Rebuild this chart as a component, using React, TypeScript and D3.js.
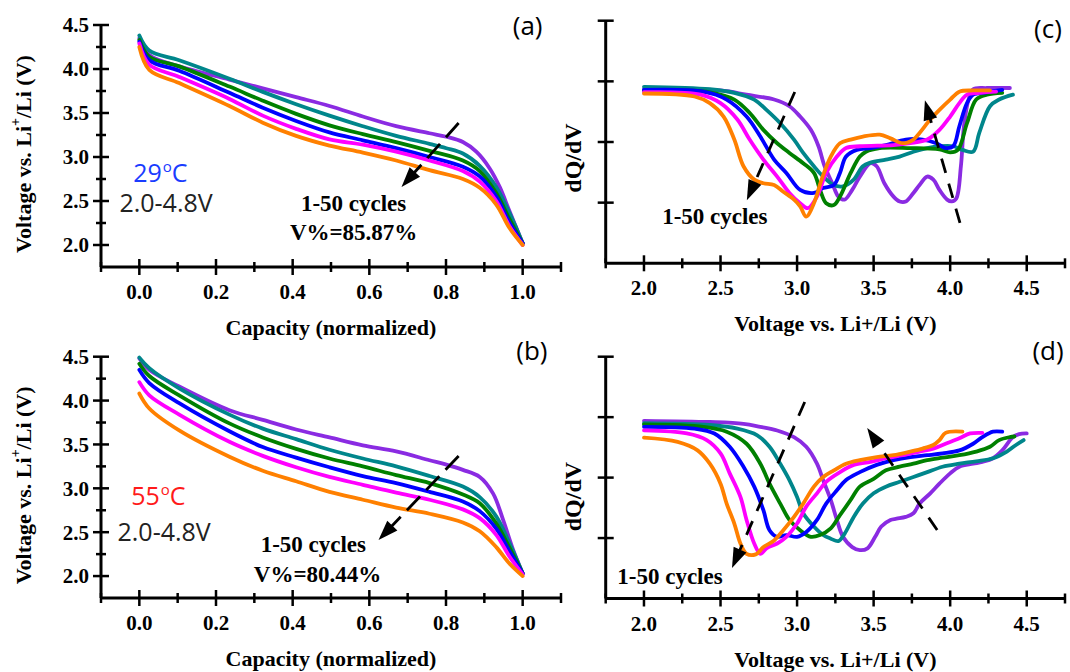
import React from "react";
import * as d3 from "d3";

type Pt = [number, number];

// cycle 1, 10, 20, 30, 40, 50
const cycleColors = ["#8a2be2", "#00868b", "#008000", "#0000ff", "#ff00ff", "#ff8000"];

// tick values
const capMajor = [0, 0.2, 0.4, 0.6, 0.8, 1.0];
const capMinor = [-0.1, 0.1, 0.3, 0.5, 0.7, 0.9, 1.1];
const voltMajor = [2.0, 2.5, 3.0, 3.5, 4.0, 4.5];
const voltMinor = [2.25, 2.75, 3.25, 3.75, 4.25];
const dqMajor = [1, 2, 3, 4];
const dqXMinor = [1.75, 2.25, 2.75, 3.25, 3.75, 4.25, 4.75];

// (a) 29 C discharge, [capacity, voltage]
const a29Cycle1: Pt[] = [[0, 4.35], [0.026, 4.16], [0.104, 4.03], [0.235, 3.88], [0.322, 3.78], [0.409, 3.68], [0.496, 3.58], [0.583, 3.46], [0.67, 3.35], [0.757, 3.27], [0.801, 3.23], [0.844, 3.17], [0.879, 3.06], [0.914, 2.87], [0.94, 2.66], [0.966, 2.38], [1.0, 2.02]];
const a29Cycle10: Pt[] = [[0, 4.38], [0.026, 4.21], [0.104, 4.1], [0.235, 3.89], [0.322, 3.74], [0.409, 3.6], [0.496, 3.47], [0.583, 3.35], [0.67, 3.24], [0.757, 3.15], [0.801, 3.1], [0.844, 3.04], [0.888, 2.9], [0.931, 2.66], [0.966, 2.36], [1.0, 2.02]];
const a29Cycle20: Pt[] = [[0, 4.33], [0.026, 4.14], [0.104, 4.03], [0.235, 3.8], [0.322, 3.64], [0.409, 3.49], [0.496, 3.36], [0.583, 3.26], [0.67, 3.17], [0.757, 3.07], [0.844, 2.96], [0.888, 2.84], [0.931, 2.59], [0.966, 2.29], [1.0, 2.02]];
const a29Cycle30: Pt[] = [[0, 4.31], [0.026, 4.1], [0.104, 3.98], [0.235, 3.73], [0.322, 3.56], [0.409, 3.41], [0.496, 3.28], [0.583, 3.19], [0.67, 3.1], [0.757, 3.0], [0.844, 2.89], [0.888, 2.78], [0.931, 2.55], [0.966, 2.25], [1.0, 2.02]];
const a29Cycle40: Pt[] = [[0, 4.29], [0.026, 4.05], [0.104, 3.91], [0.235, 3.66], [0.322, 3.47], [0.409, 3.32], [0.496, 3.2], [0.583, 3.14], [0.67, 3.06], [0.757, 2.96], [0.844, 2.84], [0.888, 2.72], [0.931, 2.5], [0.966, 2.21], [1.0, 2.0]];
const a29Cycle50: Pt[] = [[0, 4.25], [0.026, 3.99], [0.104, 3.84], [0.235, 3.58], [0.322, 3.39], [0.409, 3.24], [0.496, 3.13], [0.583, 3.05], [0.67, 2.96], [0.757, 2.85], [0.844, 2.75], [0.888, 2.65], [0.931, 2.46], [0.966, 2.19], [1.0, 2.0]];

// (b) 55 C discharge, [capacity, voltage]
const b55Cycle1: Pt[] = [[0, 4.48], [0.026, 4.35], [0.104, 4.16], [0.235, 3.89], [0.322, 3.78], [0.409, 3.67], [0.496, 3.58], [0.583, 3.49], [0.67, 3.42], [0.757, 3.32], [0.801, 3.27], [0.844, 3.21], [0.888, 3.13], [0.923, 2.94], [0.949, 2.64], [0.975, 2.3], [1.0, 2.03]];
const b55Cycle10: Pt[] = [[0, 4.49], [0.026, 4.37], [0.104, 4.14], [0.235, 3.84], [0.322, 3.68], [0.409, 3.56], [0.496, 3.44], [0.583, 3.34], [0.67, 3.25], [0.757, 3.14], [0.844, 3.02], [0.888, 2.9], [0.931, 2.68], [0.966, 2.37], [1.0, 2.03]];
const b55Cycle20: Pt[] = [[0, 4.42], [0.026, 4.28], [0.104, 4.06], [0.235, 3.74], [0.322, 3.58], [0.409, 3.45], [0.496, 3.34], [0.583, 3.25], [0.67, 3.15], [0.757, 3.06], [0.844, 2.93], [0.888, 2.83], [0.931, 2.6], [0.966, 2.32], [1.0, 2.03]];
const b55Cycle30: Pt[] = [[0, 4.35], [0.026, 4.2], [0.104, 3.97], [0.235, 3.65], [0.322, 3.47], [0.409, 3.35], [0.496, 3.24], [0.583, 3.14], [0.67, 3.06], [0.757, 2.96], [0.844, 2.85], [0.888, 2.74], [0.931, 2.54], [0.966, 2.28], [1.0, 2.03]];
const b55Cycle40: Pt[] = [[0, 4.21], [0.026, 4.06], [0.104, 3.84], [0.235, 3.53], [0.322, 3.37], [0.409, 3.24], [0.496, 3.13], [0.583, 3.04], [0.67, 2.95], [0.757, 2.87], [0.844, 2.76], [0.888, 2.66], [0.931, 2.47], [0.966, 2.22], [1.0, 2.02]];
const b55Cycle50: Pt[] = [[0, 4.08], [0.026, 3.91], [0.104, 3.66], [0.235, 3.36], [0.322, 3.2], [0.409, 3.08], [0.496, 2.96], [0.583, 2.87], [0.67, 2.78], [0.757, 2.71], [0.844, 2.61], [0.888, 2.51], [0.931, 2.33], [0.966, 2.14], [1.0, 2.0]];

// (c) 29 C dQ/dV, [voltage, dQ/dV (a.u.)]
const c29Cycle1: Pt[] = [[2.0, 2.87], [2.5, 2.85], [2.67, 2.78], [2.85, 2.7], [2.95, 2.59], [3.02, 2.42], [3.09, 2.2], [3.14, 1.93], [3.18, 1.6], [3.23, 1.32], [3.27, 1.1], [3.31, 1.05], [3.36, 1.21], [3.41, 1.43], [3.48, 1.65], [3.52, 1.6], [3.57, 1.32], [3.63, 1.1], [3.67, 1.02], [3.71, 1.02], [3.76, 1.16], [3.8, 1.29], [3.85, 1.43], [3.89, 1.38], [3.93, 1.21], [3.98, 1.05], [4.01, 1.02], [4.04, 1.07], [4.07, 1.6], [4.09, 2.26], [4.12, 2.7], [4.15, 2.87], [4.24, 2.89], [4.39, 2.89]];
const c29Cycle10: Pt[] = [[2.0, 2.91], [2.43, 2.87], [2.59, 2.81], [2.72, 2.7], [2.8, 2.53], [2.89, 2.31], [2.98, 2.04], [3.04, 1.82], [3.11, 1.6], [3.17, 1.43], [3.24, 1.29], [3.3, 1.27], [3.37, 1.38], [3.43, 1.6], [3.48, 1.66], [3.58, 1.71], [3.67, 1.76], [3.76, 1.84], [3.85, 1.9], [3.93, 1.93], [4.02, 1.93], [4.08, 1.87], [4.15, 1.84], [4.19, 2.15], [4.26, 2.59], [4.32, 2.7], [4.41, 2.78]];
const c29Cycle20: Pt[] = [[2.0, 2.85], [2.43, 2.82], [2.59, 2.7], [2.69, 2.48], [2.78, 2.2], [2.87, 1.98], [2.95, 1.82], [3.04, 1.65], [3.11, 1.49], [3.15, 1.21], [3.19, 0.99], [3.24, 0.96], [3.28, 1.1], [3.35, 1.49], [3.41, 1.76], [3.45, 1.84], [3.54, 1.9], [3.74, 1.9], [3.93, 1.88], [4.0, 1.83], [4.05, 1.87], [4.11, 2.31], [4.17, 2.7], [4.24, 2.78], [4.34, 2.81]];
const c29Cycle30: Pt[] = [[2.0, 2.86], [2.39, 2.83], [2.54, 2.7], [2.67, 2.42], [2.76, 2.09], [2.85, 1.71], [2.93, 1.49], [3.02, 1.21], [3.11, 1.16], [3.17, 1.24], [3.24, 1.29], [3.28, 1.49], [3.32, 1.76], [3.39, 1.87], [3.48, 1.9], [3.58, 1.95], [3.71, 2.04], [3.82, 2.04], [3.91, 1.98], [3.97, 1.9], [4.02, 1.93], [4.06, 2.26], [4.11, 2.64], [4.15, 2.78], [4.24, 2.82], [4.34, 2.86]];
const c29Cycle40: Pt[] = [[2.0, 2.82], [2.37, 2.78], [2.5, 2.64], [2.61, 2.37], [2.69, 2.04], [2.78, 1.71], [2.87, 1.43], [2.95, 1.16], [3.02, 0.99], [3.07, 0.91], [3.13, 1.1], [3.19, 1.49], [3.26, 1.76], [3.32, 1.9], [3.41, 1.93], [3.63, 1.95], [3.74, 1.98], [3.85, 2.04], [3.93, 2.2], [4.0, 2.42], [4.06, 2.64], [4.11, 2.78], [4.19, 2.81], [4.3, 2.83]];
const c29Cycle50: Pt[] = [[2.0, 2.8], [2.33, 2.75], [2.43, 2.64], [2.52, 2.42], [2.59, 2.04], [2.65, 1.6], [2.72, 1.38], [2.78, 1.32], [2.85, 1.29], [2.91, 1.18], [2.98, 1.05], [3.02, 0.94], [3.06, 0.77], [3.11, 0.99], [3.16, 1.38], [3.22, 1.76], [3.28, 1.98], [3.35, 2.04], [3.43, 2.09], [3.54, 2.12], [3.61, 2.06], [3.69, 1.98], [3.76, 2.04], [3.8, 2.15], [3.87, 2.37], [3.93, 2.53], [4.0, 2.7], [4.06, 2.83], [4.15, 2.85], [4.26, 2.85]];

// (d) 55 C dQ/dV, [voltage, dQ/dV (a.u.)]
const d55Cycle1: Pt[] = [[2.0, 2.94], [2.43, 2.92], [2.65, 2.89], [2.76, 2.84], [2.87, 2.78], [2.98, 2.67], [3.06, 2.51], [3.13, 2.23], [3.17, 1.96], [3.22, 1.63], [3.26, 1.3], [3.3, 1.02], [3.36, 0.85], [3.41, 0.8], [3.46, 0.83], [3.51, 1.02], [3.55, 1.19], [3.61, 1.3], [3.65, 1.32], [3.71, 1.35], [3.76, 1.41], [3.8, 1.57], [3.87, 1.74], [3.93, 1.9], [4.0, 2.07], [4.06, 2.18], [4.15, 2.23], [4.21, 2.26], [4.28, 2.32], [4.34, 2.45], [4.41, 2.67], [4.45, 2.72], [4.5, 2.73]];
const d55Cycle10: Pt[] = [[2.0, 2.9], [2.43, 2.87], [2.61, 2.81], [2.74, 2.7], [2.82, 2.51], [2.89, 2.23], [2.95, 1.96], [3.0, 1.68], [3.04, 1.41], [3.11, 1.19], [3.17, 1.05], [3.22, 0.99], [3.27, 0.95], [3.31, 1.07], [3.37, 1.35], [3.43, 1.57], [3.5, 1.74], [3.58, 1.85], [3.67, 1.93], [3.76, 2.01], [3.85, 2.09], [3.95, 2.18], [4.06, 2.23], [4.17, 2.27], [4.28, 2.32], [4.37, 2.43], [4.43, 2.54], [4.48, 2.62]];
const d55Cycle20: Pt[] = [[2.0, 2.88], [2.39, 2.84], [2.54, 2.76], [2.67, 2.56], [2.76, 2.23], [2.82, 1.9], [2.89, 1.57], [2.95, 1.3], [3.02, 1.13], [3.09, 1.02], [3.15, 1.05], [3.22, 1.16], [3.28, 1.38], [3.35, 1.63], [3.41, 1.85], [3.5, 1.98], [3.58, 2.12], [3.67, 2.18], [3.76, 2.23], [3.85, 2.29], [3.95, 2.33], [4.06, 2.37], [4.17, 2.43], [4.26, 2.51], [4.32, 2.62], [4.39, 2.67], [4.42, 2.68]];
const d55Cycle30: Pt[] = [[2.0, 2.84], [2.33, 2.81], [2.46, 2.73], [2.56, 2.51], [2.65, 2.18], [2.72, 1.85], [2.78, 1.46], [2.82, 1.13], [2.87, 1.02], [2.93, 1.05], [3.0, 1.02], [3.06, 1.1], [3.13, 1.3], [3.19, 1.57], [3.26, 1.79], [3.32, 1.96], [3.41, 2.09], [3.52, 2.21], [3.63, 2.29], [3.74, 2.34], [3.85, 2.37], [3.95, 2.4], [4.06, 2.45], [4.15, 2.56], [4.21, 2.67], [4.28, 2.76], [4.34, 2.76]];
const d55Cycle40: Pt[] = [[2.0, 2.78], [2.28, 2.73], [2.41, 2.62], [2.5, 2.4], [2.56, 2.07], [2.63, 1.68], [2.67, 1.3], [2.72, 0.91], [2.76, 0.74], [2.8, 0.83], [2.87, 0.91], [2.93, 1.02], [3.0, 1.24], [3.06, 1.52], [3.13, 1.74], [3.19, 1.93], [3.28, 2.09], [3.37, 2.21], [3.48, 2.26], [3.58, 2.32], [3.69, 2.37], [3.8, 2.43], [3.89, 2.48], [3.97, 2.56], [4.06, 2.65], [4.13, 2.73], [4.21, 2.74]];
const d55Cycle50: Pt[] = [[2.0, 2.66], [2.22, 2.59], [2.35, 2.45], [2.43, 2.23], [2.5, 1.9], [2.54, 1.57], [2.59, 1.24], [2.63, 0.91], [2.67, 0.74], [2.73, 0.73], [2.78, 0.85], [2.85, 0.96], [2.91, 1.13], [2.98, 1.35], [3.04, 1.57], [3.11, 1.85], [3.17, 2.01], [3.24, 2.12], [3.32, 2.23], [3.41, 2.29], [3.52, 2.34], [3.63, 2.37], [3.74, 2.43], [3.82, 2.48], [3.89, 2.54], [3.93, 2.62], [3.97, 2.74], [4.08, 2.76]];

const serif = "'Liberation Serif', 'Times New Roman', serif";
const sans = "'Open Sans', 'Liberation Sans', sans-serif";

type Scale = d3.ScaleLinear<number, number>;

interface PanelProps {
  xDomain: [number, number];
  xRange: [number, number];
  yDomain: [number, number];
  yRange: [number, number];
  xMajor: number[];
  xMinor: number[];
  xFmt: (v: number) => string;
  yMajor: number[];
  yMinor: number[];
  yFmt?: (v: number) => string;
  series: Pt[][];
  xTitle: string;
  yTitle: React.ReactNode;
  yTitleX: number;
  yTitleShift: number;
  yTitleSize: number;
  extra: (x: Scale, y: Scale) => React.ReactNode;
}

const DashArrow = ({ x1, y1, x2, y2, dash }: { x1: number; y1: number; x2: number; y2: number; dash: string }) => {
  const dx = x2 - x1;
  const dy = y2 - y1;
  const len = Math.hypot(dx, dy);
  const ux = dx / len;
  const uy = dy / len;
  const hl = 20; // head length
  const hw = 7; // half width
  const bx = x2 - ux * hl;
  const by = y2 - uy * hl;
  const pts = [
    [x2, y2],
    [bx - uy * hw, by + ux * hw],
    [bx + uy * hw, by - ux * hw],
  ];
  return (
    <g>
      <line x1={x1} y1={y1} x2={bx + ux * 2} y2={by + uy * 2} stroke="#000" strokeWidth={2.8} strokeDasharray={dash} />
      <polygon points={pts.map((p) => p.join(",")).join(" ")} fill="#000" />
    </g>
  );
};

const Panel = (p: PanelProps) => {
  const x = d3.scaleLinear().domain(p.xDomain).range(p.xRange);
  const y = d3.scaleLinear().domain(p.yDomain).range(p.yRange);
  const line = d3
    .line<Pt>()
    .x((d) => x(d[0]))
    .y((d) => y(d[1]))
    .curve(d3.curveCatmullRom.alpha(0.5));

  const ax = p.xRange[0];
  const ay = p.yRange[0];
  const yMid = (p.yRange[0] + p.yRange[1]) / 2 + p.yTitleShift;

  return (
    <g>
      {p.series.map((s, i) => (
        <path
          key={i}
          d={line(s) ?? ""}
          fill="none"
          stroke={cycleColors[i]}
          strokeWidth={3.8}
          strokeLinejoin="round"
          strokeLinecap="round"
        />
      ))}

      {/* axes */}
      <line x1={ax} y1={ay} x2={p.xRange[1]} y2={ay} stroke="#000" strokeWidth={3} />
      <line x1={ax} y1={ay} x2={ax} y2={p.yRange[1]} stroke="#000" strokeWidth={3} />

      {p.xMajor.map((v) => (
        <g key={"xm" + v}>
          <line x1={x(v)} x2={x(v)} y1={ay - 8} y2={ay + 8} stroke="#000" strokeWidth={2.5} />
          <text x={x(v)} y={ay + 32} textAnchor="middle" fontSize={21} fontWeight="bold" fontFamily={serif}>
            {p.xFmt(v)}
          </text>
        </g>
      ))}
      {p.xMinor.map((v) => (
        <line key={"xn" + v} x1={x(v)} x2={x(v)} y1={ay - 5} y2={ay + 5} stroke="#000" strokeWidth={2.5} />
      ))}
      {p.yMajor.map((v) => (
        <g key={"ym" + v}>
          <line x1={ax - 8} x2={ax + 8} y1={y(v)} y2={y(v)} stroke="#000" strokeWidth={2.5} />
          {p.yFmt && (
            <text x={ax - 12} y={y(v)} dy="0.35em" textAnchor="end" fontSize={21} fontWeight="bold" fontFamily={serif}>
              {p.yFmt(v)}
            </text>
          )}
        </g>
      ))}
      {p.yMinor.map((v) => (
        <line key={"yn" + v} x1={ax - 5} x2={ax + 5} y1={y(v)} y2={y(v)} stroke="#000" strokeWidth={2.5} />
      ))}

      <text
        x={(x(p.xMajor[0]) + x(p.xMajor[p.xMajor.length - 1])) / 2}
        y={ay + 68}
        textAnchor="middle"
        fontSize={22}
        fontWeight="bold"
        fontFamily={serif}
      >
        {p.xTitle}
      </text>
      <text
        transform={`translate(${p.yTitleX},${yMid}) rotate(-90)`}
        textAnchor="middle"
        dominantBaseline="central"
        fontSize={p.yTitleSize}
        fontWeight="bold"
        fontFamily={serif}
      >
        {p.yTitle}
      </text>

      {p.extra(x, y)}
    </g>
  );
};

const voltTitle = (
  <>
    Voltage vs. Li
    <tspan dy={-8} fontSize={14}>
      +
    </tspan>
    <tspan dy={8}>/Li (V)</tspan>
  </>
);

const capExtra = (label: string, temp: string, tempColor: string, vpct: string, pos: {
  tag: Pt; temp: Pt; range: Pt; cyc: Pt; vp: Pt; a0: Pt; a1: Pt;
}) => (x: Scale, y: Scale) => (
  <g>
    <text x={x(pos.tag[0])} y={y(pos.tag[1])} textAnchor="middle" fontSize={26} fontFamily={sans}>
      {label}
    </text>
    <text x={x(pos.temp[0])} y={y(pos.temp[1])} fontSize={25} fontFamily={sans} fill={tempColor}>
      {temp}
    </text>
    <text x={x(pos.temp[0]) + 29.5} y={y(pos.temp[1]) - 10} fontSize={15} fontFamily={sans} fill={tempColor}>
      o
    </text>
    <text x={x(pos.temp[0]) + 38.5} y={y(pos.temp[1])} fontSize={25} fontFamily={sans} fill={tempColor}>
      C
    </text>
    <text x={x(pos.range[0])} y={y(pos.range[1])} fontSize={25} fontFamily={sans} fill="#222">
      2.0-4.8V
    </text>
    <text x={x(pos.cyc[0])} y={y(pos.cyc[1])} textAnchor="middle" fontSize={23} fontWeight="bold" fontFamily={serif}>
      1-50 cycles
    </text>
    <text x={x(pos.vp[0])} y={y(pos.vp[1])} textAnchor="middle" fontSize={23} fontWeight="bold" fontFamily={serif}>
      {vpct}
    </text>
    <DashArrow x1={x(pos.a0[0])} y1={y(pos.a0[1])} x2={x(pos.a1[0])} y2={y(pos.a1[1])} dash="19 9" />
  </g>
);

const dqExtra = (label: string, pos: { tag: Pt; cyc: Pt; a0: Pt; a1: Pt; b0: Pt; b1: Pt }) =>
  (x: Scale, y: Scale) => (
    <g>
      <text x={x(pos.tag[0])} y={y(pos.tag[1])} textAnchor="middle" fontSize={26} fontFamily={sans}>
        {label}
      </text>
      <text x={x(pos.cyc[0])} y={y(pos.cyc[1])} textAnchor="middle" fontSize={23} fontWeight="bold" fontFamily={serif}>
        1-50 cycles
      </text>
      <DashArrow x1={x(pos.a0[0])} y1={y(pos.a0[1])} x2={x(pos.a1[0])} y2={y(pos.a1[1])} dash="15 11" />
      <DashArrow x1={x(pos.b0[0])} y1={y(pos.b0[1])} x2={x(pos.b1[0])} y2={y(pos.b1[1])} dash="15 11" />
    </g>
  );

const fmt1 = d3.format(".1f");

export default function App() {
  const capX: [number, number] = [101, 561];
  const dqX: [number, number] = [605.7, 1065];
  return (
    <svg
      width={1070}
      height={672}
      style={{ position: "absolute", left: 0, top: 0, background: "#fff" }}
    >
      <Panel
        xDomain={[-0.1, 1.1]}
        xRange={capX}
        yDomain={[1.75, 4.5]}
        yRange={[267, 25]}
        xMajor={capMajor}
        xMinor={capMinor}
        xFmt={fmt1}
        yMajor={voltMajor}
        yMinor={voltMinor}
        yFmt={fmt1}
        series={[a29Cycle1, a29Cycle10, a29Cycle20, a29Cycle30, a29Cycle40, a29Cycle50]}
        xTitle="Capacity (normalized)"
        yTitle={voltTitle}
        yTitleX={23}
        yTitleShift={8}
        yTitleSize={22}
        extra={capExtra("(a)", "29", "#1a3cff", "V%=85.87%", {
          tag: [1.013, 4.39],
          temp: [-0.016, 2.72],
          range: [-0.052, 2.375],
          cyc: [0.559, 2.39],
          vp: [0.559, 2.056],
          a0: [0.833, 3.386],
          a1: [0.684, 2.66],
        })}
      />
      <Panel
        xDomain={[-0.1, 1.1]}
        xRange={capX}
        yDomain={[1.75, 4.5]}
        yRange={[598, 356.7]}
        xMajor={capMajor}
        xMinor={capMinor}
        xFmt={fmt1}
        yMajor={voltMajor}
        yMinor={voltMinor}
        yFmt={fmt1}
        series={[b55Cycle1, b55Cycle10, b55Cycle20, b55Cycle30, b55Cycle40, b55Cycle50]}
        xTitle="Capacity (normalized)"
        yTitle={voltTitle}
        yTitleX={23}
        yTitleShift={8}
        yTitleSize={22}
        extra={capExtra("(b)", "55", "#ff1a1a", "V%=80.44%", {
          tag: [1.024, 4.46],
          temp: [-0.021, 2.81],
          range: [-0.057, 2.4],
          cyc: [0.454, 2.273],
          vp: [0.465, 1.93],
          a0: [0.833, 3.368],
          a1: [0.624, 2.41],
        })}
      />
      <Panel
        xDomain={[1.75, 4.75]}
        xRange={dqX}
        yDomain={[0, 4]}
        yRange={[263.3, 20.7]}
        xMajor={voltMajor}
        xMinor={dqXMinor}
        xFmt={fmt1}
        yMajor={dqMajor}
        yMinor={[]}
        series={[c29Cycle1, c29Cycle10, c29Cycle20, c29Cycle30, c29Cycle40, c29Cycle50]}
        xTitle="Voltage vs. Li+/Li (V)"
        yTitle="dQ/dV"
        yTitleX={573}
        yTitleShift={16}
        yTitleSize={24}
        extra={dqExtra("(c)", {
          tag: [4.639, 3.71],
          cyc: [2.463, 0.648],
          a0: [2.985, 2.825],
          a1: [2.672, 1.04],
          b0: [4.064, 0.665],
          b1: [3.835, 2.69],
        })}
      />
      <Panel
        xDomain={[1.75, 4.75]}
        xRange={dqX}
        yDomain={[0, 4]}
        yRange={[598.5, 356.7]}
        xMajor={voltMajor}
        xMinor={dqXMinor}
        xFmt={fmt1}
        yMajor={dqMajor}
        yMinor={[]}
        series={[d55Cycle1, d55Cycle10, d55Cycle20, d55Cycle30, d55Cycle40, d55Cycle50]}
        xTitle="Voltage vs. Li+/Li (V)"
        yTitle="dQ/dV"
        yTitleX={573}
        yTitleShift={19}
        yTitleSize={24}
        extra={dqExtra("(d)", {
          tag: [4.639, 3.945],
          cyc: [2.17, 0.24],
          a0: [3.05, 3.25],
          a1: [2.575, 0.505],
          b0: [3.915, 1.133],
          b1: [3.458, 2.82],
        })}
      />
    </svg>
  );
}
